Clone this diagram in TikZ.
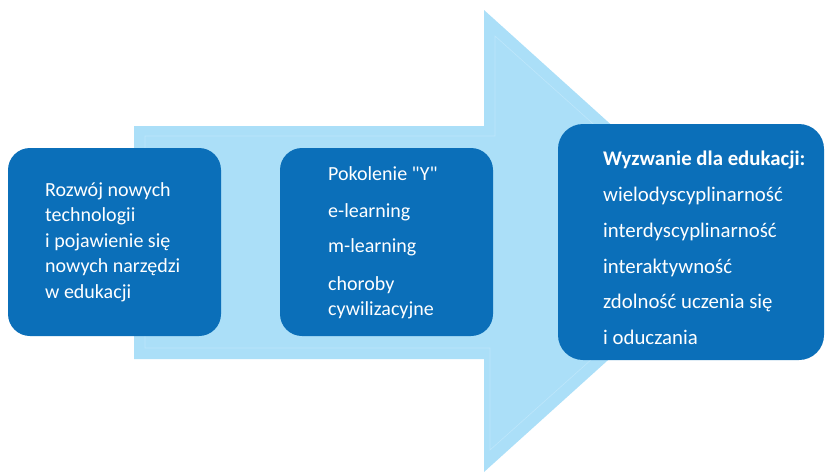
\documentclass[tikz,border=0pt]{standalone}
\usepackage{fontspec}
\setmainfont{Carlito}
\definecolor{boxblue}{RGB}{11,111,185}
\definecolor{arrowblue}{RGB}{171,223,248}
\definecolor{arrowline}{RGB}{190,231,251}
\tikzset{
  box/.style={fill=boxblue, draw=none, rounded corners=22pt, inner sep=0pt},
  txt/.style={text=white, align=left, inner sep=0pt, anchor=west, font=\fontsize{20}{25.5}\selectfont},
}
\begin{document}
\begin{tikzpicture}[x=1pt,y=-1pt]
\useasboundingbox (0,0) rectangle (825,472);
% big arrow
\fill[arrowblue] (134,126) -- (484,126) -- (484,10) -- (740,241) -- (484,472) -- (484,359) -- (134,359) -- cycle;
\draw[arrowline, line width=0.6pt] (145,348) -- (145,136) -- (495,136) -- (495,36) -- (724,241) -- (490,450) -- (490,348) -- cycle;
% boxes
\node[box, minimum width=213pt, minimum height=188pt] (b1) at (114.5,242) {};
\node[box, minimum width=213pt, minimum height=188pt] (b2) at (386.5,242) {};
\node[box, rounded corners=25pt, minimum width=266pt, minimum height=236pt] (b3) at (691,242) {};
% texts
\node[txt] (t1) at (45,242) {Rozwój nowych\\technologii\\i pojawienie się\\nowych narzędzi\\w edukacji};
\node[txt] (t2) at (328,243) {Pokolenie \textquotedbl Y\textquotedbl\\[11pt]e-learning\\[10pt]m-learning\\[12pt]choroby\\cywilizacyjne};
\node[txt, font=\fontsize{20.8}{35.8}\selectfont] (t3) at (603,248) {\textbf{Wyzwanie dla edukacji:}\\wielodyscyplinarność\\interdyscyplinarność\\interaktywność\\zdolność uczenia się\\i oduczania};
\end{tikzpicture}
\end{document}
